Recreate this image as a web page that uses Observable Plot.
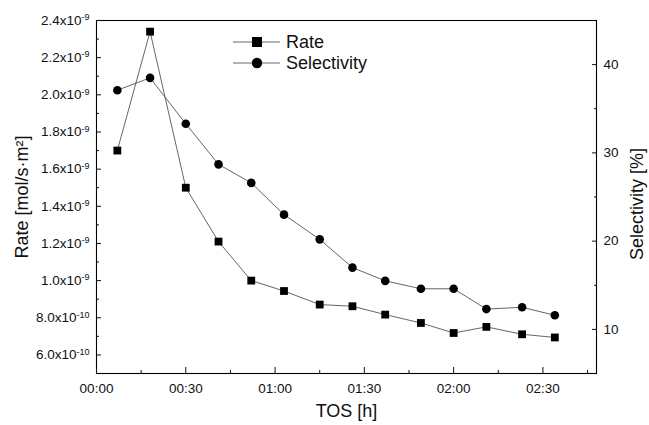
<!DOCTYPE html>
<html><head><meta charset="utf-8">
<script src="https://cdn.jsdelivr.net/npm/d3@7"></script>
<script src="https://cdn.jsdelivr.net/npm/@observablehq/plot@0.6"></script>
<style>
body{margin:0;background:#fff}
svg{font-family:"Liberation Sans",Arial,sans-serif}
</style>
</head><body><div id="chart"></div>
<script>
// TOS in minutes
const tosMinutes = [7, 18, 30, 41, 52, 63, 75, 86, 97, 109, 120, 131, 143, 154];
const rate = [1.70e-9, 2.34e-9, 1.50e-9, 1.21e-9, 1.00e-9, 0.944e-9, 0.871e-9, 0.862e-9, 0.817e-9, 0.772e-9, 0.718e-9, 0.751e-9, 0.711e-9, 0.694e-9];
const selectivity = [37.1, 38.5, 33.3, 28.7, 26.6, 23.0, 20.2, 17.0, 15.5, 14.6, 14.6, 12.3, 12.5, 11.6];

const xTicks = [0, 30, 60, 90, 120, 150];
const xMinorTicks = [15, 45, 75, 105, 135, 165];
const rateTicks = [6e-10, 8e-10, 1.0e-9, 1.2e-9, 1.4e-9, 1.6e-9, 1.8e-9, 2.0e-9, 2.2e-9, 2.4e-9];
const rateMinorTicks = [7e-10, 9e-10, 1.1e-9, 1.3e-9, 1.5e-9, 1.7e-9, 1.9e-9, 2.1e-9, 2.3e-9];
const selTicks = [10, 20, 30, 40];
const selMinorTicks = [15, 25, 35];
const xDomain = [0, 168];
const rateDomain = [5.0e-10, 2.4e-9];
const selDomain = [5, 45];

const seriesNames = ["Rate", "Selectivity"];

const toY = s => rateDomain[0] + (s - selDomain[0]) / (selDomain[1] - selDomain[0]) * (rateDomain[1] - rateDomain[0]);
const fromY = v => selDomain[0] + (v - rateDomain[0]) / (rateDomain[1] - rateDomain[0]) * (selDomain[1] - selDomain[0]);

const rows = tosMinutes.map((t, i) => ({t, rate: rate[i], sel: selectivity[i], selY: toY(selectivity[i])}));

const fmtTime = m => String(Math.floor(m / 60)).padStart(2, "0") + ":" + String(Math.round(m % 60)).padStart(2, "0");
const fmtRate = v => {
  const e = Math.floor(Math.log10(v) + 1e-9);
  const m = v / Math.pow(10, e);
  return m.toFixed(1) + "x10^" + e;
};

const lineColor = "#555";
const txt = "#111";
const tickFont = 13.5;
const titleFont = 18;

const plot = Plot.plot({
  width: 649,
  height: 425,
  marginLeft: 96,
  marginRight: 53,
  marginTop: 20,
  marginBottom: 52,
  style: {fontFamily: '"Liberation Sans", Arial, sans-serif', color: txt, background: "#fff"},
  x: {type: "linear", domain: xDomain, axis: null},
  y: {type: "linear", domain: rateDomain, axis: null},
  marks: [
    Plot.line(rows, {x: "t", y: "rate", stroke: lineColor, strokeWidth: 0.9}),
    Plot.line(rows, {x: "t", y: "selY", stroke: lineColor, strokeWidth: 0.9}),
    Plot.dot(rows, {x: "t", y: "rate", symbol: "square", r: 4.4, fill: "#000", stroke: "none"}),
    Plot.dot(rows, {x: "t", y: "selY", symbol: "circle", r: 4.3, fill: "#000", stroke: "none"}),
    Plot.frame({stroke: "#000", strokeWidth: 1.1}),
    // bottom axis
    Plot.axisX(xTicks, {anchor: "bottom", tickSize: -6, tickPadding: 16, tickFormat: fmtTime, fontSize: tickFont, label: null}),
    Plot.axisX(xMinorTicks, {anchor: "bottom", tickSize: -3, tickFormat: () => "", label: null}),
    // left axis
    Plot.axisY(rateTicks, {anchor: "left", tickSize: -5, tickPadding: 12, tickFormat: fmtRate, fontSize: tickFont, label: null}),
    Plot.axisY(rateMinorTicks, {anchor: "left", tickSize: -3, tickFormat: () => "", label: null}),
    // right axis
    Plot.axisY(selTicks.map(toY), {anchor: "right", tickSize: -5, tickPadding: 12, tickFormat: v => String(Math.round(fromY(v))), fontSize: tickFont, label: null}),
    Plot.axisY(selMinorTicks.map(toY), {anchor: "right", tickSize: -3, tickFormat: () => "", label: null}),
    // titles
    Plot.text(["Rate [mol/s·m²]"], {text: d => d, frameAnchor: "left", dx: -74, rotate: -90, fontSize: titleFont, fill: txt, textAnchor: "middle", lineAnchor: "middle"}),
    Plot.text(["Selectivity [%]"], {text: d => d, frameAnchor: "right", dx: 41, dy: 7, rotate: -90, fontSize: titleFont, fill: txt, textAnchor: "middle", lineAnchor: "middle"}),
    Plot.text(["TOS [h]"], {text: d => d, frameAnchor: "bottom", dy: 38, fontSize: titleFont, fill: txt, textAnchor: "middle", lineAnchor: "middle"})
  ]
});

document.getElementById("chart").appendChild(plot);

// superscript exponents on the left tick labels
d3.select(plot).selectAll("text").each(function() {
  const s = this.textContent;
  const k = s.indexOf("^");
  if (k > 0) {
    const base = s.slice(0, k), ex = s.slice(k + 1);
    const t = d3.select(this);
    t.text(null);
    t.append("tspan").text(base);
    t.append("tspan").attr("dy", "-0.5em").attr("font-size", "9px").text(ex);
  }
});

// legend
const leg = d3.select(plot).append("g").attr("font-size", titleFont).attr("fill", txt).attr("text-anchor", "start");
const legendItems = [
  {name: seriesNames[0], sym: d3.symbolSquare, size: 100, y: 42},
  {name: seriesNames[1], sym: d3.symbolCircle, size: 85, y: 63}
];
legendItems.forEach(it => {
  leg.append("line").attr("x1", 233).attr("x2", 280).attr("y1", it.y).attr("y2", it.y)
    .attr("stroke", lineColor).attr("stroke-width", 0.9);
  leg.append("path").attr("d", d3.symbol(it.sym, it.size)()).attr("transform", `translate(257,${it.y})`).attr("fill", "#000");
  leg.append("text").attr("x", 286).attr("y", it.y).attr("dy", "0.36em").attr("text-anchor", "start").text(it.name);
});
</script>
</body></html>
